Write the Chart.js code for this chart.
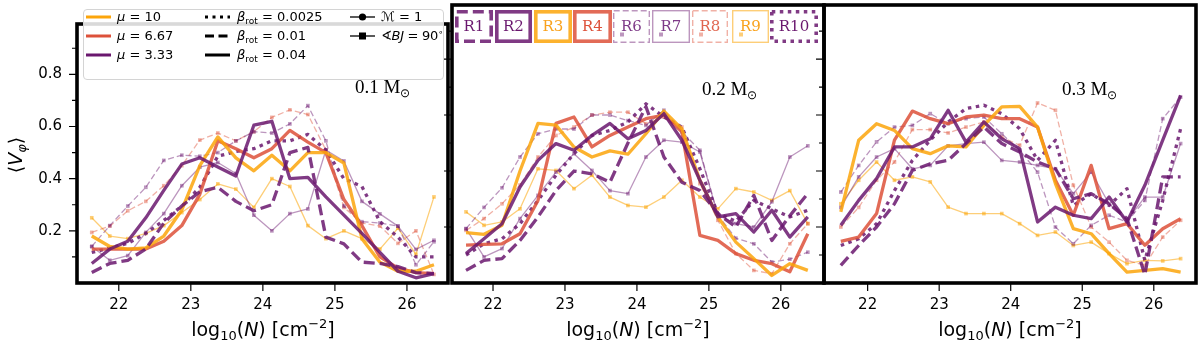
<!DOCTYPE html>
<html lang="en">
<head>
<meta charset="UTF-8">
<title>Mean azimuthal velocity vs column density</title>
<script src="https://cdn.jsdelivr.net/npm/chart.js"></script>
<style>
  html, body { margin: 0; padding: 0; background: #fff; }
  body { width: 1200px; height: 348px; position: relative; overflow: hidden; font-family: "DejaVu Sans", sans-serif; color: #000; }
  .panel { position: absolute; top: 0; height: 348px; }
  .xtitle { position: absolute; top: 318px; width: 372px; text-align: center; font-size: 19px; line-height: 22px; white-space: nowrap; }
  .xtitle sub { font-size: 13px; vertical-align: -4px; line-height: 0; }
  .xtitle sup { font-size: 13px; vertical-align: 8px; line-height: 0; }
  .ytitle { position: absolute; left: -17px; top: 144px; width: 64px; text-align: center; font-size: 19px; transform: rotate(-90deg); white-space: nowrap; }
  .ytitle sub { font-size: 13px; vertical-align: -4px; line-height: 0; }
  .mass { position: absolute; font-family: "Liberation Serif", serif; font-size: 19px; white-space: nowrap; }
  .mass sub { font-size: 12px; vertical-align: -4px; line-height: 0; }
  #legbox { position: absolute; left: 83px; top: 9px; width: 359px; height: 69px; border: 1px solid #d4d4d4; border-radius: 4px; background: rgba(255,255,255,0.85); }
  .lt { position: absolute; font-size: 13px; line-height: 16px; white-space: nowrap; }
  .lt sub { font-size: 9px; vertical-align: -3px; line-height: 0; }
  .lt sup { font-size: 9px; vertical-align: 5px; line-height: 0; }
  svg.ov { position: absolute; left: 0; top: 0; }
  .rb { position: absolute; top: 17px; font-family: "DejaVu Serif", serif; font-size: 15px; line-height: 18px; text-align: center; }
</style>
</head>
<body>

<div class="panel" style="left:0;width:452px"><canvas id="c1" width="452" height="348"></canvas></div>
<div class="panel" style="left:440px;width:388px"><canvas id="c2" width="388" height="348"></canvas></div>
<div class="panel" style="left:812px;width:388px"><canvas id="c3" width="388" height="348"></canvas></div>

<div class="ytitle">⟨<i>V</i><sub><i>φ</i></sub>⟩</div>
<div class="xtitle" style="left:77px">log<sub>10</sub>(<i>N</i>) [cm<sup>−2</sup>]</div>
<div class="xtitle" style="left:452px">log<sub>10</sub>(<i>N</i>) [cm<sup>−2</sup>]</div>
<div class="xtitle" style="left:824px">log<sub>10</sub>(<i>N</i>) [cm<sup>−2</sup>]</div>

<div class="mass" style="left:355px;top:76px">0.1 M<sub>⊙</sub></div>
<div class="mass" style="left:702px;top:78px">0.2 M<sub>⊙</sub></div>
<div class="mass" style="left:1062px;top:78px">0.3 M<sub>⊙</sub></div>

<!-- legend of panel 1 -->
<div id="legbox"></div>
<svg class="ov" width="1200" height="100" id="legsvg"></svg>
<div class="lt" style="left:117px;top:9px"><i>μ</i> = 10</div>
<div class="lt" style="left:117px;top:28px"><i>μ</i> = 6.67</div>
<div class="lt" style="left:117px;top:47px"><i>μ</i> = 3.33</div>
<div class="lt" style="left:237px;top:9px"><i>β</i><sub>rot</sub> = 0.0025</div>
<div class="lt" style="left:237px;top:28px"><i>β</i><sub>rot</sub> = 0.01</div>
<div class="lt" style="left:237px;top:47px"><i>β</i><sub>rot</sub> = 0.04</div>
<div class="lt" style="left:381px;top:9px">ℳ = 1</div>
<div class="lt" style="left:381px;top:28px;letter-spacing:-0.3px">∢<i>BJ</i> = 90<sup>∘</sup></div>

<div id="rboxes"></div>

<script>
// column density bins, log10(N)
const logN = [21.625, 21.875, 22.125, 22.375, 22.625, 22.875, 23.125, 23.375, 23.625, 23.875,
              24.125, 24.375, 24.625, 24.875, 25.125, 25.375, 25.625, 25.875, 26.125, 26.375];

const xTicks = [22, 23, 24, 25, 26];
const yTicks = [0.2, 0.4, 0.6, 0.8];
const yMinor = [0.1, 0.3, 0.5, 0.7, 0.9];

const runs = ['R1', 'R2', 'R3', 'R4', 'R6', 'R7', 'R8', 'R9', 'R10'];

// 0.1 Msun
const m01_R1  = [0.040, 0.075, 0.087, 0.130, 0.230, 0.295, 0.350, 0.367, 0.313, 0.277, 0.300, 0.500, 0.520, 0.176, 0.150, 0.080, 0.075, 0.063, 0.040, 0.036];
const m01_R2  = [0.075, 0.130, 0.160, 0.250, 0.355, 0.456, 0.480, 0.445, 0.410, 0.605, 0.620, 0.400, 0.405, 0.330, 0.260, 0.190, 0.117, 0.045, 0.020, 0.036];
const m01_R3  = [0.180, 0.140, 0.130, 0.135, 0.180, 0.280, 0.450, 0.560, 0.480, 0.430, 0.490, 0.430, 0.500, 0.500, 0.460, 0.170, 0.080, 0.045, 0.045, 0.070];
const m01_R4  = [0.130, 0.130, 0.130, 0.130, 0.160, 0.220, 0.340, 0.545, 0.515, 0.480, 0.515, 0.585, 0.540, 0.500, 0.320, 0.220, 0.100, 0.057, 0.040, 0.036];
const m01_R6  = [0.140, 0.220, 0.295, 0.367, 0.470, 0.490, 0.486, 0.500, 0.545, 0.580, 0.575, 0.610, 0.680, 0.545, 0.295, 0.235, 0.230, 0.218, 0.070, 0.158];
const m01_R7  = [0.140, 0.087, 0.105, 0.194, 0.266, 0.373, 0.444, 0.462, 0.420, 0.260, 0.200, 0.266, 0.284, 0.510, 0.468, 0.313, 0.265, 0.218, 0.129, 0.164];
const m01_R8  = [0.194, 0.218, 0.277, 0.313, 0.373, 0.450, 0.548, 0.575, 0.545, 0.580, 0.635, 0.664, 0.646, 0.510, 0.290, 0.230, 0.218, 0.152, 0.200, 0.033];
const m01_R9  = [0.250, 0.180, 0.170, 0.190, 0.220, 0.270, 0.320, 0.380, 0.360, 0.290, 0.400, 0.370, 0.220, 0.170, 0.200, 0.170, 0.130, 0.210, 0.110, 0.330];
const m01_R10 = [0.117, 0.134, 0.152, 0.190, 0.240, 0.295, 0.367, 0.486, 0.504, 0.515, 0.545, 0.545, 0.570, 0.510, 0.400, 0.370, 0.235, 0.176, 0.100, 0.100];

// 0.2 Msun
const m02_R1  = [0.045, 0.081, 0.087, 0.152, 0.236, 0.330, 0.400, 0.390, 0.360, 0.500, 0.630, 0.450, 0.360, 0.330, 0.248, 0.200, 0.313, 0.152, 0.240, 0.320];
const m02_R2  = [0.105, 0.158, 0.212, 0.343, 0.438, 0.498, 0.474, 0.527, 0.570, 0.515, 0.545, 0.605, 0.510, 0.367, 0.236, 0.248, 0.182, 0.260, 0.164, 0.236];
const m02_R3  = [0.180, 0.174, 0.206, 0.400, 0.570, 0.564, 0.486, 0.450, 0.472, 0.460, 0.533, 0.614, 0.550, 0.367, 0.236, 0.146, 0.087, 0.027, 0.069, 0.045];
const m02_R4  = [0.135, 0.138, 0.140, 0.176, 0.295, 0.570, 0.593, 0.486, 0.527, 0.557, 0.587, 0.600, 0.540, 0.170, 0.152, 0.105, 0.081, 0.069, 0.040, 0.176];
const m02_R6  = [0.194, 0.270, 0.340, 0.450, 0.533, 0.550, 0.550, 0.600, 0.600, 0.580, 0.563, 0.617, 0.540, 0.474, 0.242, 0.160, 0.140, 0.075, 0.085, 0.110];
const m02_R7  = [0.194, 0.093, 0.123, 0.230, 0.313, 0.396, 0.462, 0.402, 0.330, 0.319, 0.450, 0.510, 0.503, 0.468, 0.242, 0.212, 0.200, 0.290, 0.450, 0.490];
const m02_R8  = [0.188, 0.230, 0.283, 0.350, 0.450, 0.527, 0.557, 0.600, 0.610, 0.610, 0.569, 0.593, 0.557, 0.355, 0.224, 0.105, 0.045, 0.033, 0.140, 0.212];
const m02_R9  = [0.254, 0.206, 0.218, 0.265, 0.408, 0.402, 0.337, 0.385, 0.307, 0.277, 0.271, 0.307, 0.367, 0.307, 0.265, 0.337, 0.325, 0.295, 0.330, 0.212];
const m02_R10 = [0.100, 0.140, 0.158, 0.212, 0.295, 0.385, 0.462, 0.527, 0.545, 0.575, 0.640, 0.593, 0.557, 0.408, 0.248, 0.220, 0.295, 0.265, 0.236, 0.260];

// 0.3 Msun
const m03_R1  = [0.063, 0.134, 0.200, 0.283, 0.402, 0.426, 0.438, 0.498, 0.557, 0.498, 0.468, 0.432, 0.408, 0.301, 0.319, 0.283, 0.230, 0.030, 0.379, 0.379];
const m03_R2  = [0.206, 0.295, 0.373, 0.486, 0.486, 0.515, 0.617, 0.503, 0.575, 0.515, 0.480, 0.218, 0.271, 0.242, 0.230, 0.307, 0.218, 0.349, 0.510, 0.670];
const m03_R3  = [0.254, 0.510, 0.569, 0.545, 0.480, 0.462, 0.490, 0.486, 0.563, 0.629, 0.631, 0.557, 0.355, 0.194, 0.176, 0.105, 0.039, 0.045, 0.051, 0.039];
const m03_R4  = [0.149, 0.164, 0.248, 0.510, 0.614, 0.587, 0.569, 0.593, 0.600, 0.587, 0.587, 0.557, 0.367, 0.242, 0.420, 0.194, 0.212, 0.135, 0.194, 0.230];
const m03_R6  = [0.325, 0.420, 0.504, 0.557, 0.563, 0.605, 0.569, 0.587, 0.593, 0.533, 0.474, 0.396, 0.200, 0.140, 0.206, 0.242, 0.218, 0.295, 0.587, 0.664];
const m03_R7  = [0.270, 0.379, 0.450, 0.480, 0.408, 0.420, 0.490, 0.498, 0.503, 0.438, 0.432, 0.420, 0.408, 0.319, 0.396, 0.283, 0.224, 0.307, 0.307, 0.498];
const m03_R8  = [0.200, 0.270, 0.367, 0.432, 0.548, 0.548, 0.536, 0.557, 0.575, 0.521, 0.492, 0.643, 0.617, 0.349, 0.200, 0.146, 0.081, 0.063, 0.164, 0.224];
const m03_R9  = [0.283, 0.367, 0.432, 0.367, 0.379, 0.361, 0.271, 0.248, 0.248, 0.248, 0.212, 0.170, 0.182, 0.134, 0.146, 0.105, 0.069, 0.081, 0.079, 0.087];
const m03_R10 = [0.134, 0.158, 0.212, 0.330, 0.438, 0.510, 0.575, 0.623, 0.635, 0.605, 0.551, 0.438, 0.510, 0.277, 0.319, 0.277, 0.337, 0.081, 0.295, 0.551];

const PURPLE = 'rgba(106,23,110,0.85)', RED = 'rgba(221,81,58,0.85)', ORANGE = 'rgba(252,165,10,0.85)';
const PURPLE_L = 'rgba(106,23,110,0.45)', RED_L = 'rgba(221,81,58,0.45)', ORANGE_L = 'rgba(252,165,10,0.55)';
const DASH = [11, 5], DOT = [3.5, 4.5], THIN_DASH = [6, 3];

// line style of every run: colour, width, dash, square markers
const style = {
  R1:  { c: PURPLE,   w: 3.3, d: DASH },
  R2:  { c: PURPLE,   w: 3.3, d: [] },
  R3:  { c: ORANGE,   w: 3.3, d: [] },
  R4:  { c: RED,      w: 3.3, d: [] },
  R6:  { c: PURPLE_L, w: 1.3, d: THIN_DASH, m: true },
  R7:  { c: PURPLE_L, w: 1.3, d: [], m: true },
  R8:  { c: RED_L,    w: 1.3, d: THIN_DASH, m: true },
  R9:  { c: ORANGE_L, w: 1.3, d: [], m: true },
  R10: { c: PURPLE,   w: 3.3, d: DOT }
};

const panels = [
  { id: 'c1', yw: 77, labels: true,  xmin: 21.42, xmax: 26.57,
    data: { R1: m01_R1, R2: m01_R2, R3: m01_R3, R4: m01_R4, R6: m01_R6, R7: m01_R7, R8: m01_R8, R9: m01_R9, R10: m01_R10 } },
  { id: 'c2', yw: 12, labels: false, xmin: 21.43, xmax: 26.6,
    data: { R1: m02_R1, R2: m02_R2, R3: m02_R3, R4: m02_R4, R6: m02_R6, R7: m02_R7, R8: m02_R8, R9: m02_R9, R10: m02_R10 } },
  { id: 'c3', yw: 12, labels: false, xmin: 21.39, xmax: 26.59,
    data: { R1: m03_R1, R2: m03_R2, R3: m03_R3, R4: m03_R4, R6: m03_R6, R7: m03_R7, R8: m03_R8, R9: m03_R9, R10: m03_R10 } }
];

// black frame and matplotlib-like tick marks
const frame = {
  id: 'frame',
  afterDraw(chart) {
    const { ctx, chartArea: a, scales: { x, y } } = chart;
    ctx.save();
    ctx.strokeStyle = '#000';
    ctx.lineWidth = 1.2;
    ctx.beginPath();
    xTicks.forEach(v => { const px = x.getPixelForValue(v); ctx.moveTo(px, a.bottom); ctx.lineTo(px, a.bottom + 8); });
    yTicks.forEach(v => { const py = y.getPixelForValue(v); ctx.moveTo(a.left - 8, py); ctx.lineTo(a.left, py); });
    yMinor.forEach(v => { const py = y.getPixelForValue(v); ctx.moveTo(a.left - 5, py); ctx.lineTo(a.left, py); });
    ctx.stroke();
    ctx.lineWidth = 3.6;
    ctx.strokeRect(a.left, a.top, a.right - a.left, a.bottom - a.top);
    ctx.restore();
  }
};

panels.forEach(p => {
  const datasets = runs.map(r => {
    const s = style[r];
    return {
      label: r,
      data: p.data[r].map((v, i) => ({ x: logN[i], y: v })),
      borderColor: s.c,
      backgroundColor: s.c,
      borderWidth: s.w,
      borderDash: s.d,
      borderCapStyle: 'butt',
      borderJoinStyle: 'round',
      pointStyle: 'rect',
      pointRadius: s.m ? 2.6 : 0,
      pointBorderWidth: 0,
      pointBackgroundColor: s.c,
      tension: 0,
      order: s.m ? 2 : 1
    };
  });

  new Chart(document.getElementById(p.id), {
    type: 'line',
    data: { datasets },
    plugins: [frame],
    options: {
      responsive: false,
      animation: false,
      events: [],
      layout: { padding: { top: 5, right: 4, left: 0, bottom: 0 } },
      plugins: { legend: { display: false }, tooltip: { enabled: false } },
      scales: {
        x: {
          type: 'linear', min: p.xmin, max: p.xmax,
          grid: { display: false, drawTicks: false },
          border: { display: false },
          afterBuildTicks: sc => { sc.ticks = xTicks.map(v => ({ value: v })); },
          afterFit: sc => { sc.height = 65; },
          ticks: { color: '#000', padding: 13, maxRotation: 0,
                   font: { family: 'DejaVu Sans', size: 15 },
                   callback: v => String(v) }
        },
        y: {
          type: 'linear', min: 0, max: 0.993,
          grid: { display: false, drawTicks: false },
          border: { display: false },
          afterBuildTicks: sc => { sc.ticks = yTicks.map(v => ({ value: v })); },
          afterFit: sc => { sc.width = p.yw; },
          ticks: { display: p.labels, color: '#000', padding: 15,
                   font: { family: 'DejaVu Sans', size: 15 },
                   callback: v => v.toFixed(1) }
        }
      }
    }
  });
});

// legend samples for panel 1
const NS = 'http://www.w3.org/2000/svg';
const legsvg = document.getElementById('legsvg');
function el(tag, attrs, parent) {
  const e = document.createElementNS(NS, tag);
  for (const k in attrs) e.setAttribute(k, attrs[k]);
  parent.appendChild(e);
  return e;
}
const rowsY = [17, 36, 55];
[ORANGE, RED, PURPLE].forEach((c, i) =>
  el('line', { x1: 86, x2: 111, y1: rowsY[i], y2: rowsY[i], stroke: c.replace('0.85', '1'), 'stroke-width': 3 }, legsvg));
[[3, 4.5], [9, 4.5], []].forEach((d, i) =>
  el('line', { x1: 205, x2: 230, y1: rowsY[i], y2: rowsY[i], stroke: '#000', 'stroke-width': 3,
               'stroke-dasharray': d.length ? d.join(' ') : 'none' }, legsvg));
el('line', { x1: 350, x2: 375, y1: rowsY[0], y2: rowsY[0], stroke: '#000', 'stroke-width': 1.3 }, legsvg);
el('circle', { cx: 362.5, cy: rowsY[0], r: 3.6, fill: '#000' }, legsvg);
el('line', { x1: 350, x2: 375, y1: rowsY[1], y2: rowsY[1], stroke: '#000', 'stroke-width': 1.3 }, legsvg);
el('rect', { x: 359, y: rowsY[1] - 3.5, width: 7, height: 7, fill: '#000' }, legsvg);

// run boxes on top of panel 2
const boxLeft = [455, 495, 534, 573, 613, 652, 692, 732, 770];
const boxWidth = [38, 37, 38, 39, 37, 38, 36, 37, 48];
const textCol = { R1: '#6a176e', R2: '#6a176e', R3: '#f9a21c', R4: '#dd513a', R6: '#7e3a88', R7: '#7e3a88', R8: '#e0654f', R9: '#f9a21c', R10: '#6a176e' };
const rsvg = el('svg', { width: 1200, height: 60, class: 'ov' }, document.body);
const rdiv = document.getElementById('rboxes');
runs.forEach((r, i) => {
  const s = style[r];
  const lw = s.w > 2 ? 3.6 : 1.4;
  const dash = s.d.length ? (s.m ? '6 3' : s.d.join(' ')) : 'none';
  el('rect', { x: boxLeft[i] + lw / 2, y: 10 + lw / 2, width: boxWidth[i] - lw, height: 33 - lw,
               fill: 'none', stroke: s.c, 'stroke-width': lw, 'stroke-dasharray': dash }, rsvg);
  if (s.m) el('rect', { x: boxLeft[i] + 7, y: 32.5, width: 4, height: 4, fill: s.c }, rsvg);
  const t = document.createElement('div');
  t.className = 'rb';
  t.style.left = boxLeft[i] + 'px';
  t.style.width = boxWidth[i] + 'px';
  t.style.color = textCol[r];
  t.textContent = r;
  rdiv.appendChild(t);
});
</script>
</body>
</html>
